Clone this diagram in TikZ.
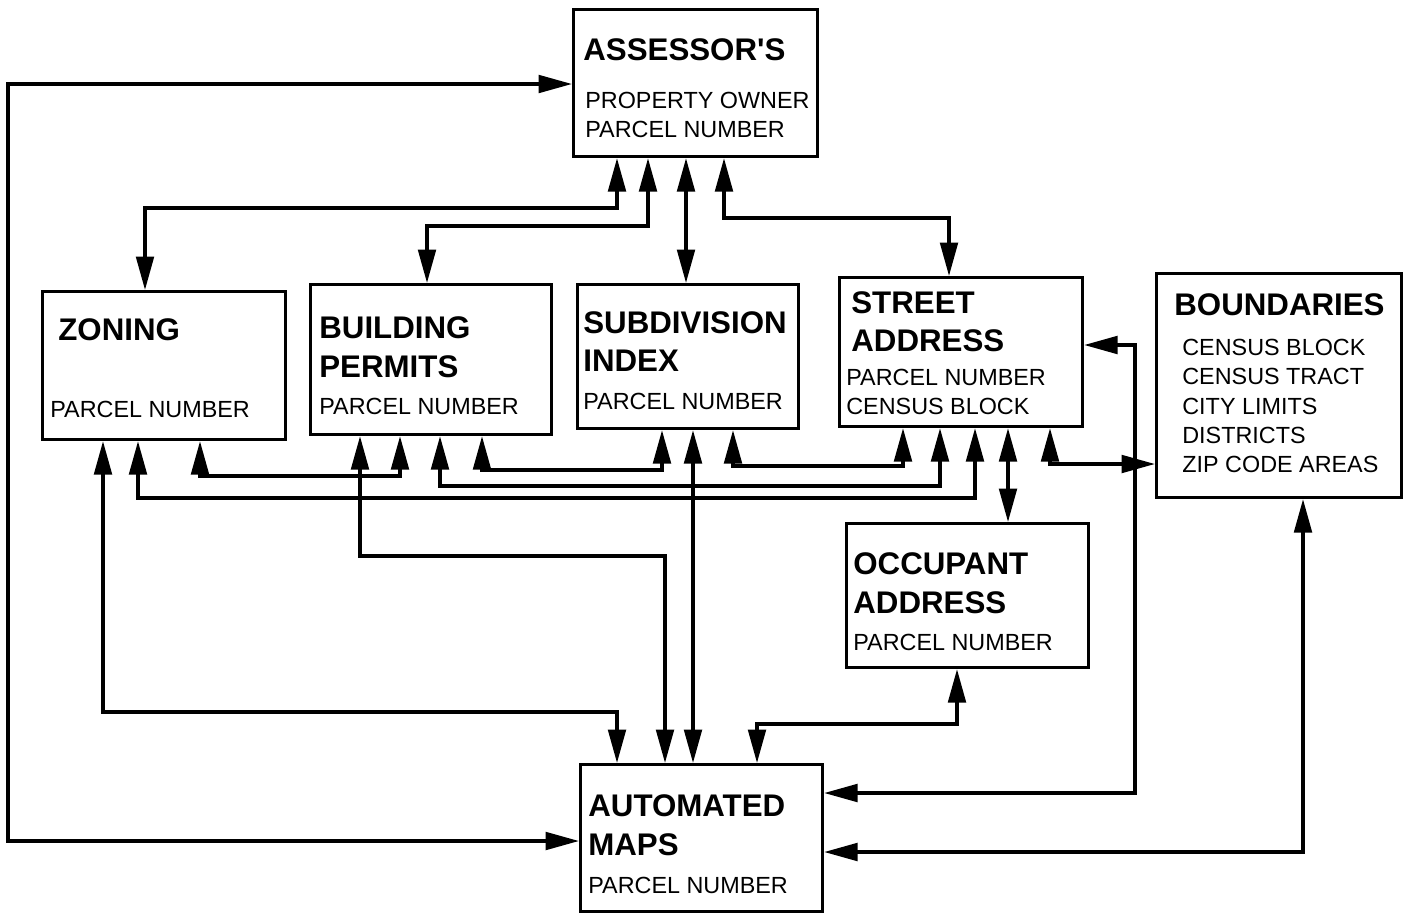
\documentclass[tikz,border=0pt]{standalone}
\usepackage{fontspec}
\setmainfont{Liberation Sans}
\usetikzlibrary{arrows.meta}
\tikzset{>={Triangle[length=19pt,width=10pt]}}
\tikzset{
  box/.style={draw, line width=1.8pt, anchor=north west, inner sep=0pt},
  head/.style={anchor=west, inner sep=0pt, font=\fontsize{17.8}{20}\selectfont\bfseries},
  item/.style={anchor=west, inner sep=0pt, font=\fontsize{13.3}{15}\selectfont},
  link/.style={line width=1.9pt, <->},
}

\begin{document}
\begin{tikzpicture}[x=0.02cm, y=-0.02cm]
  \useasboundingbox (0,0) rectangle (1409,914);

  % 方框
  \node[box, minimum width=4.88cm, minimum height=2.94cm] (asr) at (572,8) {};
  \node[box, minimum width=4.86cm, minimum height=2.96cm] (zon) at (41,290) {};
  \node[box, minimum width=4.82cm, minimum height=3.00cm] (bld) at (309,283) {};
  \node[box, minimum width=4.42cm, minimum height=2.88cm] (sub) at (576,283) {};
  \node[box, minimum width=4.86cm, minimum height=2.98cm] (str) at (838,276) {};
  \node[box, minimum width=4.90cm, minimum height=4.48cm] (bnd) at (1155,272) {};
  \node[box, minimum width=4.84cm, minimum height=2.88cm] (occ) at (845,522) {};
  \node[box, minimum width=4.84cm, minimum height=2.94cm] (map) at (579,763) {};

  % 文字
  \node[head] (asrA) at (583,50) {ASSESSOR\textquotesingle S};
  \node[item] (asrB) at (585,100) {PROPERTY OWNER};
  \node[item] (asrC) at (585,129) {PARCEL NUMBER};

  \node[head] (zonA) at (58,330) {ZONING};
  \node[item] (zonB) at (50,409) {PARCEL NUMBER};

  \node[head] (bldA) at (319,328) {BUILDING};
  \node[head] (bldB) at (319,367) {PERMITS};
  \node[item] (bldC) at (319,406) {PARCEL NUMBER};

  \node[head] (subA) at (583,323) {SUBDIVISION};
  \node[head] (subB) at (583,361) {INDEX};
  \node[item] (subC) at (583,401) {PARCEL NUMBER};

  \node[head] (strA) at (851,303) {STREET};
  \node[head] (strB) at (851,341) {ADDRESS};
  \node[item] (strC) at (846,377) {PARCEL NUMBER};
  \node[item] (strD) at (846,406) {CENSUS BLOCK};

  \node[head] (bndA) at (1174,305) {BOUNDARIES};
  \node[item] (bndB) at (1182,347) {CENSUS BLOCK};
  \node[item] (bndC) at (1182,376) {CENSUS TRACT};
  \node[item] (bndD) at (1182,406) {CITY LIMITS};
  \node[item] (bndE) at (1182,435) {DISTRICTS};
  \node[item] (bndF) at (1182,464) {ZIP CODE AREAS};

  \node[head] (occA) at (853,564) {OCCUPANT};
  \node[head] (occB) at (853,603) {ADDRESS};
  \node[item] (occC) at (853,642) {PARCEL NUMBER};

  \node[head] (mapA) at (588,806) {AUTOMATED};
  \node[head] (mapB) at (588,845) {MAPS};
  \node[item] (mapC) at (588,885) {PARCEL NUMBER};

  % 上部连线
  \draw[link] (asr.west |- 0,84) -| (8,841) -- (map.west |- 0,841);
  \draw[link] (asr.south -| 617,0) -- (617,208) -| (zon.north -| 145,0);
  \draw[link] (asr.south -| 648,0) -- (648,226) -| (bld.north -| 427,0);
  \draw[link] (asr.south -| 686,0) -- (sub.north -| 686,0);
  \draw[link] (asr.south -| 724,0) -- (724,218) -| (str.north -| 949,0);

  % 中部连线
  \draw[link] (zon.south -| 200,0) -- (200,476) -| (bld.south -| 400,0);
  \draw[link] (bld.south -| 482,0) -- (482,470) -| (sub.south -| 662,0);
  \draw[link] (bld.south -| 440,0) -- (440,486) -| (str.south -| 940,0);
  \draw[link] (zon.south -| 138,0) -- (138,498) -| (str.south -| 975,0);
  \draw[link] (sub.south -| 733,0) -- (733,466) -| (str.south -| 903,0);
  \draw[link] (str.south -| 1050,0) -- (1050,464) -- (bnd.west |- 0,464);
  \draw[link] (str.south -| 1008,0) -- (occ.north -| 1008,0);

  % 下部连线
  \draw[link] (zon.south -| 103,0) -- (103,712) -| (map.north -| 617,0);
  \draw[link] (bld.south -| 360,0) -- (360,556) -| (map.north -| 665,0);
  \draw[link] (sub.south -| 693,0) -- (map.north -| 693,0);
  \draw[link] (occ.south -| 957,0) -- (957,724) -| (map.north -| 757,0);
  \draw[link] (str.east |- 0,345) -| (1135,793) -- (map.east |- 0,793);
  \draw[link] (bnd.south -| 1303,0) -- (1303,852) -- (map.east |- 0,852);
\end{tikzpicture}
\end{document}
